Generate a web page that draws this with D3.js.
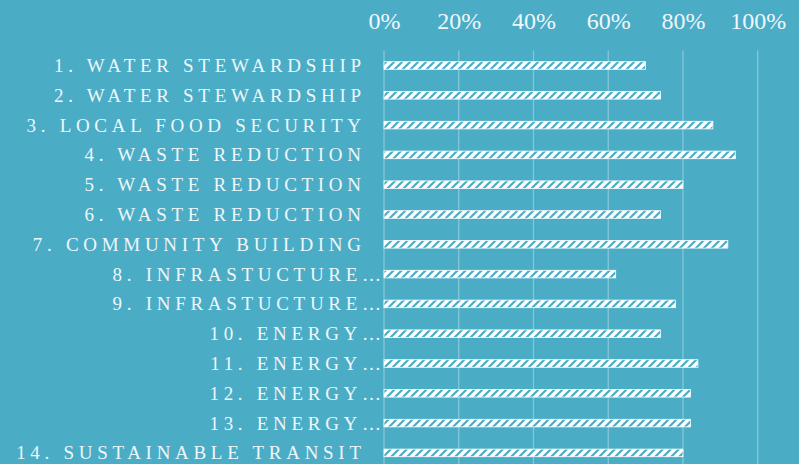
<!DOCTYPE html>
<html>
<head>
<meta charset="utf-8">
<script src="https://cdn.jsdelivr.net/npm/d3@7"></script>
<style>
  html, body { margin: 0; padding: 0; background: #4BACC6; }
  svg { display: block; }
</style>
</head>
<body>
<script>
const categories = [
  "1. WATER STEWARDSHIP",
  "2. WATER STEWARDSHIP",
  "3. LOCAL FOOD SECURITY",
  "4. WASTE REDUCTION",
  "5. WASTE REDUCTION",
  "6. WASTE REDUCTION",
  "7. COMMUNITY BUILDING",
  "8. INFRASTUCTURE…",
  "9. INFRASTUCTURE…",
  "10. ENERGY…",
  "11. ENERGY…",
  "12. ENERGY…",
  "13. ENERGY…",
  "14. SUSTAINABLE TRANSIT"
];
const values = [0.70, 0.74, 0.88, 0.94, 0.80, 0.74, 0.92, 0.62, 0.78, 0.74, 0.84, 0.82, 0.82, 0.80];
const tickValues = [0, 0.2, 0.4, 0.6, 0.8, 1.0];

const W = 799, H = 464;
const bg = "#4BACC6";
const svg = d3.select("body").append("svg").attr("width", W).attr("height", H);
svg.append("rect").attr("width", W).attr("height", H).attr("fill", bg);

const defs = svg.append("defs");
const pat = defs.append("pattern")
  .attr("id", "diag").attr("patternUnits", "userSpaceOnUse")
  .attr("width", 8).attr("height", 8);
pat.append("rect").attr("width", 8).attr("height", 8).attr("fill", "#ffffff");
pat.append("path")
  .attr("d", "M-2,2 L2,-2 M0,8 L8,0 M6,10 L10,6")
  .attr("stroke", bg).attr("stroke-width", 2.2);

const x = d3.scaleLinear().domain([0, 1]).range([384, 757.7]);
const y = d3.scaleBand().domain(categories).range([50.6, 467.8])
  .paddingInner(0.745).paddingOuter(0.3725);

// gridlines
svg.append("g").selectAll("line").data(tickValues).join("line")
  .attr("x1", d => x(d)).attr("x2", d => x(d))
  .attr("y1", 50.6).attr("y2", H)
  .attr("stroke", "rgba(255,255,255,0.32)").attr("stroke-width", 1.3);

// top axis labels
const axis = d3.axisTop(x).tickValues(tickValues).tickFormat(d3.format(".0%")).tickSize(0);
const ag = svg.append("g").attr("transform", "translate(0,29)").call(axis);
ag.select(".domain").remove();
ag.selectAll("text")
  .attr("y", 0).attr("dy", 0)
  .attr("fill", "#eef7fa")
  .attr("font-family", "'Liberation Serif', serif")
  .attr("font-size", 24);

// bars
svg.append("g").selectAll("rect").data(categories).join("rect")
  .attr("x", x(0))
  .attr("y", d => y(d))
  .attr("width", (d, i) => x(values[i]) - x(0))
  .attr("height", y.bandwidth())
  .attr("fill", "url(#diag)")
  .attr("stroke", "#ffffff").attr("stroke-width", 0.8);

// category labels
const ls = 4.7;
svg.append("g").selectAll("text").data(categories).join("text")
  .attr("x", d => (d.endsWith("…") ? 381 : 361) + ls)
  .attr("y", d => y(d) + y.bandwidth() / 2 + 6.5)
  .attr("text-anchor", "end")
  .attr("fill", "#eef7fa")
  .attr("font-family", "'Liberation Serif', serif")
  .attr("font-size", 19)
  .attr("letter-spacing", ls)
  .text(d => d);
</script>
</body>
</html>
